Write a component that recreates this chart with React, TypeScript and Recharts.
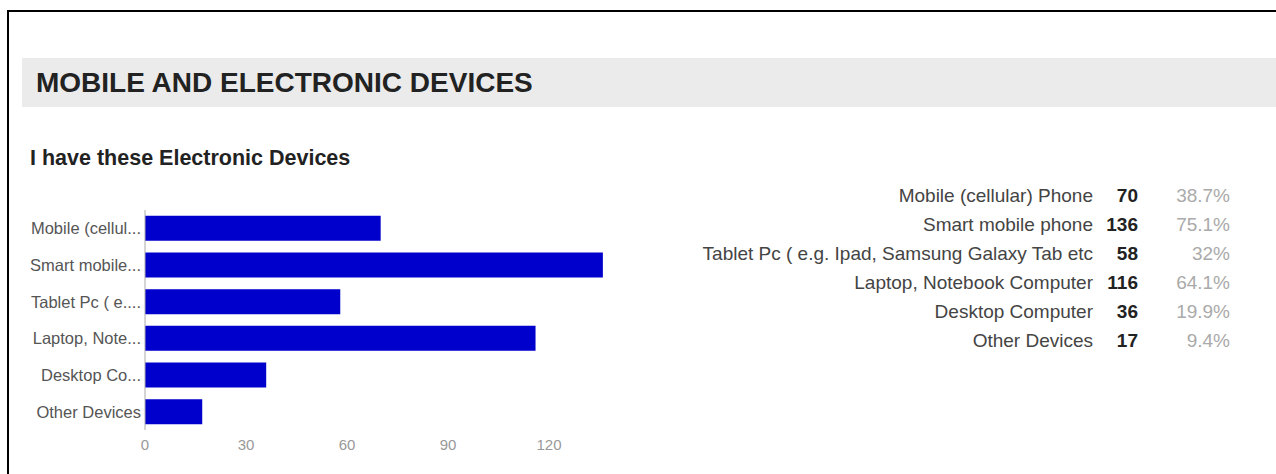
import { BarChart, Bar, XAxis, YAxis } from 'recharts';

const categories = [
  'Mobile (cellular) Phone',
  'Smart mobile phone',
  'Tablet Pc ( e.g. Ipad, Samsung Galaxy Tab etc',
  'Laptop, Notebook Computer',
  'Desktop Computer',
  'Other Devices',
];
const shortLabels = [
  'Mobile (cellul...',
  'Smart mobile...',
  'Tablet Pc ( e....',
  'Laptop, Note...',
  'Desktop Co...',
  'Other Devices',
];
const counts = [70, 136, 58, 116, 36, 17];
const percents = ['38.7%', '75.1%', '32%', '64.1%', '19.9%', '9.4%'];
const xTicks = [0, 30, 60, 90, 120];

const data = categories.map((name, i) => ({
  name,
  short: shortLabels[i],
  count: counts[i],
}));

const font = '"Liberation Sans", Arial, sans-serif';

const App = () => {
  return (
    <div
      style={{
        position: 'absolute',
        left: 0,
        top: 0,
        width: 1276,
        height: 474,
        background: '#fff',
        overflow: 'hidden',
        fontFamily: font,
      }}
    >
      <div
        style={{
          position: 'absolute',
          left: 7,
          top: 10,
          width: 1280,
          height: 470,
          borderTop: '2px solid #000',
          borderLeft: '2px solid #000',
        }}
      />
      <div
        style={{
          position: 'absolute',
          left: 22,
          top: 58,
          width: 1254,
          height: 49,
          background: '#ebebeb',
          display: 'flex',
          alignItems: 'center',
        }}
      >
        <span
          style={{
            marginLeft: 14,
            fontSize: 28,
            fontWeight: 700,
            color: '#222',
          }}
        >
          MOBILE AND ELECTRONIC DEVICES
        </span>
      </div>
      <div
        style={{
          position: 'absolute',
          left: 30,
          top: 145,
          fontSize: 21.5,
          fontWeight: 700,
          color: '#222',
          lineHeight: '26px',
        }}
      >
        I have these Electronic Devices
      </div>

      <div style={{ position: 'absolute', left: 0, top: 200 }}>
        <BarChart
          layout="vertical"
          width={700}
          height={270}
          data={data}
          margin={{ top: 10, right: 50, bottom: 10, left: 0 }}
          barCategoryGap="16%"
        >
          <XAxis
            type="number"
            domain={[0, 150]}
            ticks={xTicks}
            axisLine={false}
            tickLine={false}
            tickSize={0}
            tickMargin={9}
            height={30}
            tick={{ fill: '#999', fontSize: 15, fontFamily: font }}
          />
          <YAxis
            type="category"
            dataKey="short"
            width={145}
            tickLine={false}
            tickSize={0}
            tickMargin={4}
            axisLine={{ stroke: '#aaa' }}
            tick={{ fill: '#555', fontSize: 16.5, fontFamily: font }}
          />
          <Bar dataKey="count" fill="#0000cc" isAnimationActive={false} />
        </BarChart>
      </div>

      <table
        style={{
          position: 'absolute',
          left: 640,
          top: 181,
          borderCollapse: 'collapse',
          fontSize: 19,
          fontFamily: font,
        }}
      >
        <tbody>
          {categories.map((name, i) => (
            <tr key={name} style={{ height: 29 }}>
              <td style={{ width: 453, textAlign: 'right', padding: 0, color: '#444' }}>
                {name}
              </td>
              <td
                style={{
                  width: 45,
                  textAlign: 'right',
                  padding: 0,
                  fontWeight: 700,
                  color: '#222',
                }}
              >
                {counts[i]}
              </td>
              <td style={{ width: 92, textAlign: 'right', padding: 0, color: '#aaa' }}>
                {percents[i]}
              </td>
            </tr>
          ))}
        </tbody>
      </table>
    </div>
  );
};

export default App;
